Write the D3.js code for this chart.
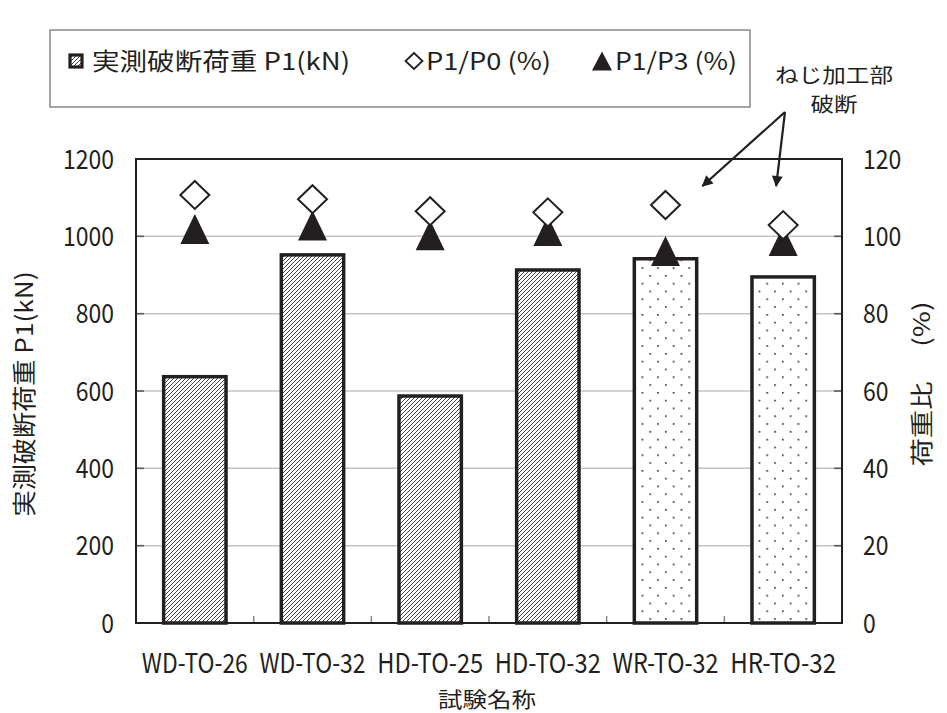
<!DOCTYPE html>
<html><head><meta charset="utf-8">
<script src="https://cdn.jsdelivr.net/npm/d3@7/dist/d3.min.js"></script>
<style>
html,body{margin:0;padding:0;background:#fff;}
text{font-family:"Noto Sans CJK JP","Noto Sans",sans-serif;fill:#231f20;}
</style></head>
<body>
<svg id="chart" width="947" height="713"></svg>
<script>
const categories = ["WD-TO-26","WD-TO-32","HD-TO-25","HD-TO-32","WR-TO-32","HR-TO-32"];
const p1Values = [637, 952, 587, 913, 942, 895];
const p1p0Values = [110.7, 109.6, 106.5, 106.2, 108.1, 102.9];
const p1p3Values = [101.9, 102.8, 100.3, 101.4, 96.2, 98.8];
const barPatterns = ["hatch","hatch","hatch","hatch","dots","dots"];
const leftTicks = [0,200,400,600,800,1000,1200];
const rightTicks = [0,20,40,60,80,100,120];
const legendLabels = ["実測破断荷重 P1(kN)", "P1/P0 (%)", "P1/P3 (%)"];
const leftTitle = "実測破断荷重 P1(kN)";
const rightTitle = "荷重比 (%)";
const xTitle = "試験名称";
const noteLines = ["ねじ加工部", "破断"];

const svg = d3.select("#chart");
const ink = "#231f20";
const L = 136, R = 842, T = 159, B = 623;

const defs = svg.append("defs");
const hatch = defs.append("pattern").attr("id","hatch").attr("patternUnits","userSpaceOnUse")
  .attr("width",4).attr("height",4);
hatch.append("rect").attr("width",4).attr("height",4).attr("fill","#fff");
hatch.append("path").attr("d","M-1,1 l2,-2 M0,4 l4,-4 M3,5 l2,-2")
  .attr("stroke","#3a3a3a").attr("stroke-width",0.95);
const dots = defs.append("pattern").attr("id","dots").attr("patternUnits","userSpaceOnUse")
  .attr("width",15.6).attr("height",15.6).attr("x",0).attr("y",0);
dots.append("rect").attr("width",15.6).attr("height",15.6).attr("fill","#fff");
dots.append("rect").attr("x",2).attr("y",2).attr("width",1.6).attr("height",1.6).attr("fill","#222");
dots.append("rect").attr("x",9.8).attr("y",9.8).attr("width",1.6).attr("height",1.6).attr("fill","#222");
defs.append("marker").attr("id","arrow").attr("viewBox","0 0 10 10").attr("refX",9).attr("refY",5)
  .attr("markerWidth",6).attr("markerHeight",5).attr("orient","auto").attr("markerUnits","strokeWidth")
  .append("path").attr("d","M0,0 L10,5 L0,10 z").attr("fill",ink);

const x = d3.scaleBand().domain(categories).range([L,R]).paddingInner(0.47).paddingOuter(0.235);
const xb = d3.scaleBand().domain(categories).range([L,R]);
const yL = d3.scaleLinear().domain([0,1200]).range([B,T]);
const yR = d3.scaleLinear().domain([0,120]).range([B,T]);

// gridlines
svg.append("g").selectAll("line").data(leftTicks.filter(d=>d>0 && d<1200)).join("line")
  .attr("x1",L).attr("x2",R).attr("y1",d=>yL(d)).attr("y2",d=>yL(d))
  .attr("stroke","#c4c4c4").attr("stroke-width",1.5);

// inner ticks
const tk = svg.append("g");
tk.selectAll("line.l").data(leftTicks).join("line").attr("class","l")
  .attr("x1",L).attr("x2",L+8).attr("y1",d=>yL(d)).attr("y2",d=>yL(d)).attr("stroke","#555").attr("stroke-width",1.5);
tk.selectAll("line.r").data(rightTicks).join("line").attr("class","r")
  .attr("x1",R-8).attr("x2",R).attr("y1",d=>yR(d)).attr("y2",d=>yR(d)).attr("stroke","#555").attr("stroke-width",1.5);
tk.selectAll("line.b").data(categories.slice(1)).join("line").attr("class","b")
  .attr("x1",d=>xb(d)).attr("x2",d=>xb(d)).attr("y1",B).attr("y2",B-7).attr("stroke","#888").attr("stroke-width",1.5);

// bars
svg.append("g").selectAll("rect").data(categories).join("rect")
  .attr("x",d=>x(d)).attr("width",x.bandwidth())
  .attr("y",(d,i)=>yL(p1Values[i])).attr("height",(d,i)=>B-yL(p1Values[i]))
  .attr("fill",(d,i)=>`url(#${barPatterns[i]})`).attr("stroke",ink).attr("stroke-width",3.5);

// frame
svg.append("rect").attr("x",L).attr("y",T).attr("width",R-L).attr("height",B-T)
  .attr("fill","none").attr("stroke",ink).attr("stroke-width",2);

// markers
const cx = d => x(d) + x.bandwidth()/2;
svg.append("g").selectAll("path").data(categories).join("path")
  .attr("d","M0,-15 L14.5,15 L-14.5,15 Z")
  .attr("transform",(d,i)=>`translate(${cx(d)},${yR(p1p3Values[i])})`)
  .attr("fill",ink);
svg.append("g").selectAll("path").data(categories).join("path")
  .attr("d","M0,-14 L14.5,0 L0,14 L-14.5,0 Z")
  .attr("transform",(d,i)=>`translate(${cx(d)},${yR(p1p0Values[i])})`)
  .attr("fill","#fff").attr("stroke",ink).attr("stroke-width",2);

// tick labels (condensed half-width look)
const fit = (sel, len) => sel.attr("textLength", len).attr("lengthAdjust","spacingAndGlyphs");
svg.append("g").selectAll("text").data(leftTicks).join("text")
  .attr("x",114).attr("y",d=>yL(d)).attr("dy","0.36em").attr("text-anchor","end")
  .attr("font-size",27).text(d=>d)
  .each(function(d){ fit(d3.select(this), String(d).length*12.75); });
svg.append("g").selectAll("text").data(rightTicks).join("text")
  .attr("x",863).attr("y",d=>yR(d)).attr("dy","0.36em").attr("text-anchor","start")
  .attr("font-size",27).text(d=>d)
  .each(function(d){ fit(d3.select(this), String(d).length*12.75); });
svg.append("g").selectAll("text").data(categories).join("text")
  .attr("x",d=>xb(d)+xb.bandwidth()/2).attr("y",673).attr("text-anchor","middle")
  .attr("font-size",27).text(d=>d)
  .each(function(d){ fit(d3.select(this), 106); });

// axis titles
fit(svg.append("text").attr("x",487).attr("y",707).attr("text-anchor","middle")
  .attr("font-size",21).text(xTitle), 98);
fit(svg.append("text").attr("transform","translate(33,394) rotate(-90)").attr("text-anchor","middle")
  .attr("font-size",24).text(leftTitle), 245);
fit(svg.append("text").attr("transform","translate(930,384) rotate(-90)").attr("text-anchor","middle")
  .attr("font-size",23).attr("xml:space","preserve").text(rightTitle.replace(" ","\u3000 ")), 165);

// legend
const lg = svg.append("g");
lg.append("rect").attr("x",50).attr("y",30).attr("width",700).attr("height",77)
  .attr("fill","#fff").attr("stroke","#888").attr("stroke-width",1.5);
lg.append("rect").attr("x",70).attr("y",55).attr("width",12).attr("height",12)
  .attr("fill","url(#hatch)").attr("stroke",ink).attr("stroke-width",3.2);
fit(lg.append("text").attr("x",92).attr("y",70).attr("font-size",24).attr("xml:space","preserve").text(legendLabels[0]), 258);
lg.append("path").attr("d","M0,-8 L8.5,0 L0,8 L-8.5,0 Z").attr("transform","translate(414,61)")
  .attr("fill","#fff").attr("stroke",ink).attr("stroke-width",1.8);
fit(lg.append("text").attr("x",426).attr("y",70).attr("font-size",24).attr("xml:space","preserve").text(legendLabels[1]), 125);
lg.append("path").attr("d","M0,-9.5 L10,9.5 L-10,9.5 Z").attr("transform","translate(602,61)").attr("fill",ink);
fit(lg.append("text").attr("x",615).attr("y",70).attr("font-size",24).attr("xml:space","preserve").text(legendLabels[2]), 122);

// annotation
fit(svg.append("text").attr("x",834).attr("y",83).attr("text-anchor","middle").attr("font-size",20)
  .text(noteLines[0]), 118);
fit(svg.append("text").attr("x",834).attr("y",112).attr("text-anchor","middle").attr("font-size",20)
  .text(noteLines[1]), 47);
const arrowFrom = [785,112];
const arrowTargets = [4,5];
svg.append("g").selectAll("line").data(arrowTargets).join("line")
  .attr("x1",arrowFrom[0]).attr("y1",arrowFrom[1])
  .attr("x2",(d,i)=> i===0 ? cx(categories[d])+37 : cx(categories[d])-7)
  .attr("y2",yR(p1p0Values[4])-19)
  .attr("stroke",ink).attr("stroke-width",2.2).attr("marker-end","url(#arrow)");
</script>
</body></html>
